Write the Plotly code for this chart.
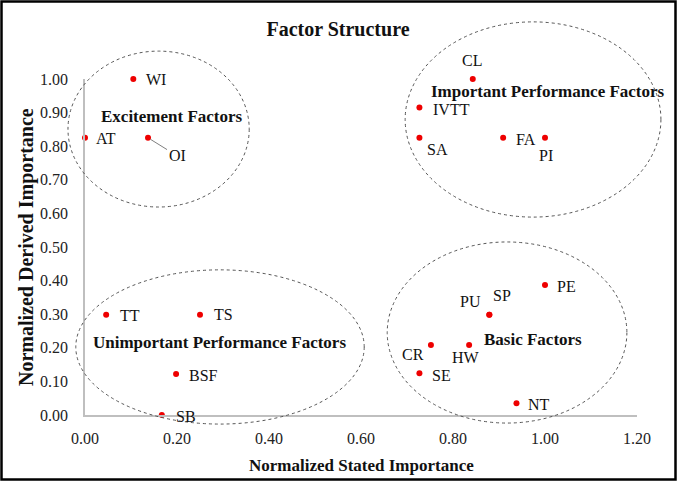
import plotly.graph_objects as go

# ---- data ----
labels = ["AT", "WI", "OI", "CL", "IVTT", "SA", "FA", "PI", "TT", "TS", "BSF", "SB",
          "PE", "PU", "SP", "CR", "HW", "SE", "NT"]
stated = [0.00, 0.105, 0.137, 0.843, 0.727, 0.727, 0.909, 1.00, 0.046, 0.250, 0.198, 0.167,
          1.00, 0.879, 0.879, 0.752, 0.835, 0.727, 0.938]
derived = [0.825, 1.00, 0.825, 1.00, 0.915, 0.825, 0.825, 0.825, 0.298, 0.298, 0.122, 0.00,
           0.387, 0.298, 0.298, 0.208, 0.208, 0.124, 0.035]

group_names = ["Excitement Factors", "Important Performance Factors",
               "Unimportant Performance Factors", "Basic Factors"]
x_ticks = [0.0, 0.2, 0.4, 0.6, 0.8, 1.0, 1.2]
y_ticks = [0.0, 0.1, 0.2, 0.3, 0.4, 0.5, 0.6, 0.7, 0.8, 0.9, 1.0]

# ---- layout helpers (positions / styles) ----
XMAX, YMAX = 1.2, 1.0
# label placement: (xanchor, dx px, dy px downward)
label_place = {
    "WI": ("left", 11, 0), "AT": ("left", 9, 1), "CL": ("center", -1, -19),
    "IVTT": ("left", 12, 2), "SA": ("left", 6, 12), "FA": ("left", 11, 2),
    "PI": ("center", 1, 18), "TT": ("left", 12, 1), "TS": ("left", 12, 0),
    "BSF": ("left", 11, 1), "SB": ("left", 12, 1), "PE": ("left", 10, 2),
    "PU": ("right", -6, -13), "SP": ("left", 2, -19), "CR": ("right", -5, 9),
    "HW": ("center", -3, 12), "SE": ("left", 11, 2), "NT": ("left", 10, 1),
}
group_pos = [(0.189, 0.887), (1.007, 0.963), (0.293, 0.217), (0.974, 0.226)]
ellipses = [(-0.037, 0.619, 0.357, 1.083), (0.696, 0.589, 1.252, 1.170),
            (-0.020, -0.027, 0.607, 0.432), (0.657, -0.024, 1.178, 0.515)]

FONT = "Liberation Serif"

fig = go.Figure()
fig.add_trace(go.Scatter(
    x=stated, y=derived, mode="markers", cliponaxis=False,
    marker=dict(color="#ee0000", size=6), hoverinfo="text", text=labels,
    showlegend=False))

annotations = []
for lab, xv, yv in zip(labels, stated, derived):
    if lab == "OI":
        annotations.append(dict(x=xv, y=yv, xref="x", yref="y", text=lab,
                                showarrow=True, arrowhead=0, arrowwidth=1,
                                arrowcolor="#7f7f7f", ax=29, ay=18, standoff=3,
                                font=dict(family=FONT, size=16, color="#111")))
        continue
    xa, dx, dy = label_place[lab]
    annotations.append(dict(x=xv, y=yv, xref="x", yref="y", text=lab, showarrow=False,
                            xanchor=xa, yanchor="middle", xshift=dx, yshift=-dy,
                            font=dict(family=FONT, size=16, color="#111")))

for name, (gx, gy) in zip(group_names, group_pos):
    annotations.append(dict(x=gx, y=gy, xref="x", yref="y", text="<b>%s</b>" % name,
                            showarrow=False, xanchor="center", yanchor="middle",
                            font=dict(family=FONT, size=17, color="#111")))

# axis titles
annotations.append(dict(x=0.5, y=(415 - 465) / 336, xref="paper", yref="paper",
                        text="<b>Normalized Stated Importance</b>", showarrow=False,
                        xanchor="center", yanchor="middle",
                        font=dict(family=FONT, size=17, color="#111")))
annotations.append(dict(x=(26 - 85) / 552, y=(415 - 247) / 336, xref="paper", yref="paper",
                        text="<b>Normalized Derived Importance</b>", showarrow=False,
                        textangle=-90, xanchor="center", yanchor="middle",
                        font=dict(family=FONT, size=20, color="#111")))

shapes = []
for (x0, y0, x1, y1) in ellipses:
    shapes.append(dict(type="circle", xref="paper", yref="paper",
                       x0=x0 / XMAX, x1=x1 / XMAX, y0=y0 / YMAX, y1=y1 / YMAX,
                       line=dict(color="#555555", width=1, dash="dot")))
# outer frame
shapes.append(dict(type="rect", xref="paper", yref="paper",
                   x0=(1.5 - 85) / 552, x1=(675.5 - 85) / 552,
                   y0=(415 - 479.5) / 336, y1=(415 - 1.5) / 336,
                   line=dict(color="#000000", width=2.5)))

fig.update_layout(
    width=677, height=481,
    margin=dict(l=85, r=40, t=79, b=66),
    paper_bgcolor="white", plot_bgcolor="white",
    title=dict(text="<b>Factor Structure</b>", x=(338 - 85) / 552, xref="paper",
               xanchor="center", y=1 - 29 / 481, yref="container", yanchor="middle",
               font=dict(family=FONT, size=20, color="#111")),
    xaxis=dict(range=[0, XMAX], tickvals=x_ticks, tickformat=".2f", showgrid=False,
               zeroline=False, showline=True, linecolor="#bfbfbf", linewidth=1.5,
               ticks="", ticklabelstandoff=8,
               tickfont=dict(family=FONT, size=16, color="#222")),
    yaxis=dict(range=[0, YMAX], tickvals=y_ticks, tickformat=".2f", showgrid=False,
               zeroline=False, showline=True, linecolor="#bfbfbf", linewidth=1.5,
               ticks="", ticklabelstandoff=12,
               tickfont=dict(family=FONT, size=16, color="#222")),
    annotations=annotations, shapes=shapes,
)

fig.write_html("out.html", config={"displayModeBar": False},
               post_script="document.body.style.margin='0px';")
